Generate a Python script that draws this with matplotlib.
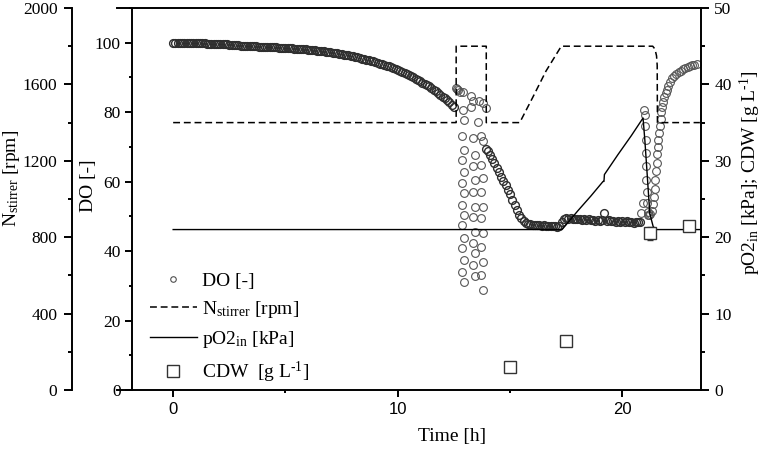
import numpy as np
import matplotlib
matplotlib.use("Agg")
import matplotlib.pyplot as plt
from matplotlib.ticker import MultipleLocator
from matplotlib.lines import Line2D

plt.rcParams['font.family'] = ['Liberation Serif', 'DejaVu Serif']
plt.rcParams['mathtext.fontset'] = 'custom'
plt.rcParams['mathtext.rm'] = 'Liberation Serif'
plt.rcParams['mathtext.it'] = 'Liberation Serif:italic'
plt.rcParams['mathtext.bf'] = 'Liberation Serif:bold'

# ---------------- data ----------------
# DO, phase 1 (sampled every 0.1 h from 0 to 12.5 h)
do_t1 = np.round(np.arange(0, 12.55, 0.1), 2)
do_v1 = [100.0, 100.0, 100.0, 100.0, 99.9, 99.9, 99.9, 99.9, 99.9, 99.9,
         99.8, 99.8, 99.8, 99.8, 99.8, 99.7, 99.7, 99.7, 99.7, 99.6,
         99.6, 99.6, 99.5, 99.5, 99.5, 99.4, 99.4, 99.4, 99.3, 99.3,
         99.2, 99.2, 99.2, 99.1, 99.1, 99.0, 99.0, 99.0, 98.9, 98.9,
         98.9, 98.8, 98.8, 98.8, 98.7, 98.7, 98.7, 98.6, 98.6, 98.6,
         98.5, 98.5, 98.4, 98.4, 98.3, 98.3, 98.2, 98.2, 98.1, 98.1,
         98.0, 97.9, 97.8, 97.8, 97.7, 97.6, 97.5, 97.5, 97.4, 97.3,
         97.2, 97.1, 97.0, 96.9, 96.8, 96.7, 96.6, 96.5, 96.4, 96.2,
         96.1, 95.9, 95.8, 95.6, 95.4, 95.3, 95.1, 94.9, 94.7, 94.6,
         94.4, 94.2, 94.0, 93.8, 93.6, 93.4, 93.2, 92.9, 92.7, 92.4,
         92.1, 91.8, 91.5, 91.2, 90.9, 90.6, 90.3, 90.0, 89.6, 89.3,
         88.9, 88.5, 88.2, 87.8, 87.4, 86.9, 86.5, 86.0, 85.5, 85.0,
         84.5, 84.0, 83.4, 82.8, 82.1, 81.4]

# DO, oscillating phase (12.6 - 13.94 h)
do_t2 = [12.60, 12.64, 12.68, 12.75, 12.90, 13.27, 13.34, 13.61, 13.79, 13.94,
         12.90, 12.93, 13.27, 13.57,
         12.88, 12.96, 12.88, 12.96, 12.88, 12.96, 12.88, 12.96, 12.88, 12.96, 12.88, 12.96, 12.88, 12.96,
         13.33, 13.43, 13.33, 13.43, 13.33, 13.43, 13.33, 13.43, 13.33, 13.43, 13.33, 13.43,
         13.72, 13.80, 13.72, 13.80, 13.72, 13.80, 13.72, 13.80, 13.72, 13.80, 13.72, 13.80]
do_v2 = [86.9, 86.7, 86.3, 85.9, 85.7, 84.7, 83.1, 83.1, 82.6, 81.2,
         80.7, 77.8, 81.6, 77.3,
         73.0, 69.2, 66.3, 62.9, 59.6, 56.7, 53.3, 50.4, 47.6, 43.7, 40.8, 37.5, 34.1, 31.2,
         72.5, 67.7, 64.4, 60.5, 57.1, 52.8, 49.9, 45.6, 42.3, 39.4, 36.0, 32.7,
         73.0, 71.6, 64.8, 61.0, 57.1, 52.8, 49.5, 45.2, 41.3, 37.0, 33.1, 28.8]

# DO, decline and plateau (13.95 - 20.8 h)
do_t3 = [13.95] + list(np.round(np.arange(14.0, 20.85, 0.1), 2))
do_v3 = [69.5,
         68.8, 67.6, 66.6, 65.3, 64.0, 62.8, 61.4, 60.2, 58.9, 57.6,
         56.3, 54.8, 53.3, 51.8, 50.4, 49.4, 48.7, 48.2, 47.9, 47.7,
         47.6, 47.5, 47.4, 47.5, 47.3, 47.4, 47.3, 47.2, 47.3, 47.1,
         47.2, 47.0, 47.1, 48.5, 49.3, 49.5, 49.3, 49.4, 49.2, 49.3,
         49.1, 49.2, 49.0, 49.2, 49.0, 49.1, 48.9, 49.0, 48.8, 49.0,
         48.8, 48.9, 51.0, 48.7, 48.9, 48.6, 48.8, 48.5, 48.7, 48.5,
         48.6, 48.4, 48.6, 48.3, 48.5, 48.2, 48.4, 48.3, 48.5]

# DO, spike and recovery (20.85 - 23.3 h)
do_t4 = [20.85, 20.90, 20.98, 21.00, 21.02, 21.04, 21.05, 21.06, 21.07, 21.08, 21.10,
         21.12, 21.15, 21.20, 21.25, 21.30, 21.35, 21.40, 21.44, 21.47, 21.50,
         21.52, 21.55, 21.58, 21.60, 21.63, 21.66, 21.70, 21.74, 21.78, 21.82,
         21.87, 21.92, 21.97, 22.02, 22.10, 22.20, 22.30, 22.40, 22.50, 22.60,
         22.70, 22.80, 22.90, 23.00, 23.10, 23.20, 23.30]
do_v4 = [50.9, 53.8, 80.7, 79.3, 75.9, 72.0, 68.2, 64.4, 60.5, 57.1, 53.8,
         51.4, 50.5, 50.3, 50.8, 51.5, 53.5, 55.7, 58.0, 60.5, 63.0,
         65.5, 68.0, 70.0, 72.0, 74.0, 76.0, 78.0, 80.0, 81.5, 83.0,
         84.3, 85.4, 86.4, 87.6, 88.8, 89.7, 90.4, 91.0, 91.5, 92.0,
         92.4, 92.8, 93.1, 93.4, 93.6, 93.7, 93.8]

# Stirrer speed [rpm]
n_t = [0.0, 12.6, 12.6, 13.94, 13.94, 15.43, 16.0, 16.6, 17.28, 21.35, 21.45, 21.52, 21.55, 21.56, 23.45]
n_v = [1400, 1400, 1800, 1800, 1400, 1400, 1530, 1670, 1800, 1800, 1785, 1750, 1700, 1400, 1400]

# Inlet oxygen partial pressure [kPa]
po2_t = [0.0, 17.30, 17.40, 18.00, 18.60, 19.14, 19.18, 19.20, 19.80, 20.40, 20.92,
         21.00, 21.10, 21.22, 21.37, 21.50, 23.45]
po2_v = [21.0, 21.0, 21.3, 23.4, 25.4, 27.3, 27.3, 28.2, 30.8, 33.3, 35.6,
         32.7, 28.4, 23.1, 21.4, 21.0, 21.0]

# Cell dry weight [g/L]
cdw_t = [14.98, 17.48, 21.22, 22.98]
cdw_v = [3.05, 6.45, 20.5, 21.5]
cdw_e = [0.15, 0.4, 0.9, 0.3]

# ---------------- figure ----------------
W, H = 763, 455
fig = plt.figure(figsize=(W / 100, H / 100), dpi=100)
L, R, B, T = 117, 701, 390, 8
ax = fig.add_axes([L / W, 1 - B / H, (R - L) / W, (B - T) / H])
axN = ax.twinx()
axR = ax.twinx()

SPW = 1.4
tick_major = dict(which='major', direction='out', length=5, width=SPW)
tick_minor = dict(which='minor', direction='out', length=2.5, width=SPW)

# main (DO) axis
ax.set_xlim(-2.5, 23.5)
ax.set_ylim(0, 110)
for s in ['top', 'bottom', 'left']:
    ax.spines[s].set_linewidth(SPW)
ax.spines['right'].set_visible(False)
ax.spines['left'].set_position(('axes', 15 / (R - L)))
ax.xaxis.set_major_locator(MultipleLocator(10))
ax.xaxis.set_minor_locator(MultipleLocator(5))
ax.yaxis.set_major_locator(MultipleLocator(20))
ax.yaxis.set_minor_locator(MultipleLocator(10))
ax.tick_params(axis='both', **tick_major)
ax.tick_params(axis='both', **tick_minor)
ax.tick_params(axis='y', which='major', labelsize=12.5, pad=3)
ax.tick_params(axis='x', which='major', labelsize=12, pad=4, labelfontfamily='Liberation Sans')
ax.tick_params(top=False, which='both')

circ = dict(linestyle='none', marker='o', markersize=5.6, markerfacecolor='none',
            markeredgecolor='#2e2e2e', markeredgewidth=1.0)
ax.plot(do_t1, do_v1, **circ)
ax.plot(do_t2, do_v2, **dict(circ, markeredgecolor='#555555', markeredgewidth=0.8))
ax.plot(do_t3, do_v3, **circ)
ax.plot(do_t4, do_v4, **dict(circ, markeredgecolor='#555555', markeredgewidth=0.8))

# stirrer axis (outer left)
axN.set_ylim(0, 2000)
for s in ['top', 'bottom', 'right']:
    axN.spines[s].set_visible(False)
axN.spines['left'].set_visible(True)
axN.spines['left'].set_linewidth(SPW)
axN.spines['left'].set_position(('axes', (72 - L) / (R - L)))
axN.yaxis.set_label_position('left')
axN.yaxis.tick_left()
axN.yaxis.set_major_locator(MultipleLocator(400))
axN.yaxis.set_minor_locator(MultipleLocator(200))
axN.tick_params(axis='y', which='major', direction='out', length=5.5, width=SPW, labelsize=12.5, pad=5)
axN.tick_params(axis='y', which='minor', direction='out', length=3, width=SPW)
axN.plot(n_t, n_v, color='black', linewidth=1.1, dashes=(4.5, 2.5))

# right axis (pO2, CDW)
axR.set_ylim(0, 50)
for s in ['top', 'bottom', 'left']:
    axR.spines[s].set_visible(False)
axR.spines['right'].set_linewidth(SPW)
axR.yaxis.set_major_locator(MultipleLocator(10))
axR.yaxis.set_minor_locator(MultipleLocator(5))
axR.tick_params(axis='y', which='major', direction='out', length=5.5, width=SPW, labelsize=12.5, pad=4)
axR.tick_params(axis='y', which='minor', direction='out', length=3, width=SPW)
axR.plot(po2_t, po2_v, color='black', linewidth=1.0)
axR.errorbar(cdw_t, cdw_v, yerr=cdw_e, linestyle='none', marker='s', markersize=8,
             markerfacecolor='white', markeredgecolor='#333333', markeredgewidth=1.0,
             ecolor='#333333', elinewidth=0.8, capsize=2.5, capthick=0.8, zorder=5)

# labels
fs = 14
ax.set_xlabel('Time [h]', fontsize=fs)
ax.xaxis.set_label_coords((452 - L) / (R - L), -(437 - B) / (B - T))
ax.xaxis.label.set_verticalalignment('center')

ax.set_ylabel('DO [-]', fontsize=fs)
ax.yaxis.set_label_coords((89 - L) / (R - L), (B - 186) / (B - T))
ax.yaxis.label.set_verticalalignment('center')

axN.set_ylabel(r'N$_{\rm stirrer}$ [rpm]', fontsize=fs)
axN.yaxis.set_label_coords((12 - L) / (R - L), (B - 178) / (B - T))
axN.yaxis.label.set_verticalalignment('center')

sup = '$^{\\rm \u2010 1}$'
axR.set_ylabel(r'pO2$_{\rm in}$ [kPa]; CDW [g L' + sup + ']', fontsize=fs)
axR.yaxis.set_label_coords((750 - L) / (R - L), (B - 173) / (B - T))
axR.yaxis.label.set_verticalalignment('center')
axR.yaxis.label.set_rotation(90)

# legend
handles = [
    Line2D([], [], linestyle='none', marker='o', markersize=4, markerfacecolor='none',
           markeredgecolor='#505050', markeredgewidth=0.8),
    Line2D([], [], color='black', linewidth=1.1, dashes=(4.5, 2.5)),
    Line2D([], [], color='black', linewidth=1.0),
    Line2D([], [], linestyle='none', marker='s', markersize=8, markerfacecolor='white',
           markeredgecolor='#333333', markeredgewidth=1.0),
]
labels = ['DO [-]', r'N$_{\rm stirrer}$ [rpm]', r'pO2$_{\rm in}$ [kPa]', 'CDW  [g L' + sup + ']']
axR.legend(handles, labels, loc='upper left', frameon=False, fontsize=14,
           bbox_to_anchor=((150 - L) / (R - L), (B - 272) / (B - T)),
           borderpad=0, borderaxespad=0, handlelength=2.4, handletextpad=0.25,
           labelspacing=0.48)

fig.savefig('out.png', dpi=100)
